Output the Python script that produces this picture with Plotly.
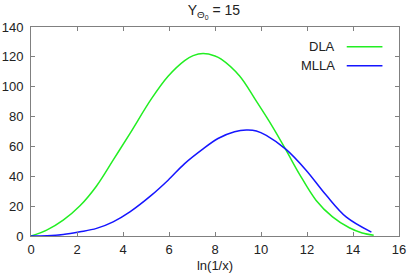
import plotly.graph_objects as go

# DLA curve
dla_x = [0.0, 0.68, 1.4, 2.13, 2.85, 3.57, 4.3, 5.24, 5.96, 6.68, 7.05, 7.48, 8.0, 8.27, 9.07, 9.79,
         10.51, 11.09, 11.67, 12.39, 13.11, 13.84, 14.4, 14.9]
dla_y = [0.0, 3.9, 10.6, 20.2, 33.5, 50.8, 68.6, 92.0, 107.0, 117.5, 120.8, 122.2, 120.6, 118.5, 107.2, 90.5,
         73.0, 57.5, 41.5, 24.0, 12.8, 5.5, 2.0, 0.5]

# MLLA curve
mlla_x = [0.0, 0.7, 1.4, 2.13, 2.85, 3.57, 4.3, 5.24, 5.96, 6.68, 7.41, 8.13, 8.85, 9.36,
          9.8, 10.23, 11.09, 11.96, 12.83, 13.7, 14.8]
mlla_y = [0.0, 0.2, 1.0, 2.8, 5.1, 9.5, 16.2, 27.4, 37.4, 48.5, 57.5, 65.3, 69.8, 71.0,
          70.4, 67.4, 58.0, 44.1, 27.4, 12.8, 2.6]

series_names = ["DLA", "MLLA"]
colors = ["#22ee22", "#1515ff"]

x_ticks = list(range(0, 17, 2))
y_ticks = list(range(0, 141, 20))

fig = go.Figure()
fig.add_trace(go.Scatter(x=dla_x, y=dla_y, mode="lines", name=series_names[0],
                         line=dict(color=colors[0], width=1.5, shape="spline", smoothing=1.0)))
fig.add_trace(go.Scatter(x=mlla_x, y=mlla_y, mode="lines", name=series_names[1],
                         line=dict(color=colors[1], width=1.5, shape="spline", smoothing=1.0)))

font = dict(family="Liberation Sans, Arial, sans-serif", size=13, color="#222222")

axis_common = dict(showline=True, linecolor="#808080", linewidth=1, mirror="allticks",
                   ticks="inside", ticklen=4, tickcolor="#808080", tickwidth=1,
                   showgrid=False, zeroline=False, tickfont=font, automargin=False)

fig.update_layout(
    width=409, height=273,
    margin=dict(l=31, r=10, t=27, b=37),
    paper_bgcolor="white", plot_bgcolor="white",
    showlegend=False,
    font=font,
    title=dict(text="Y<sub>Θ<sub>0</sub></sub> = 15", x=0.523, xanchor="center",
               y=0.962, yanchor="middle", automargin=False,
               font=dict(family="Liberation Sans, Arial, sans-serif", size=14, color="#222222")),
    xaxis=dict(range=[0, 16], tickvals=x_ticks, ticktext=[str(v) for v in x_ticks],
               title=dict(text="ln(1/x)", font=font, standoff=6), ticklabelstandoff=1, **axis_common),
    yaxis=dict(range=[0, 140], tickvals=y_ticks, ticktext=[str(v) for v in y_ticks],
               ticklabelstandoff=4, **axis_common),
)

# legend in gnuplot style: text right-aligned, line sample to its right
legend_rows = [0.905, 0.815]
for name, col, yy in zip(series_names, colors, legend_rows):
    fig.add_annotation(xref="paper", yref="paper", x=0.832, y=yy, xanchor="right", yanchor="middle",
                       text=name, showarrow=False, font=font)
    fig.add_shape(type="line", xref="paper", yref="paper", x0=0.858, x1=0.955, y0=yy, y1=yy,
                  line=dict(color=col, width=1.5))

fig.write_html("out.html", config={"displayModeBar": False},
               post_script="document.body.style.margin='0px';document.body.style.overflow='hidden';")
